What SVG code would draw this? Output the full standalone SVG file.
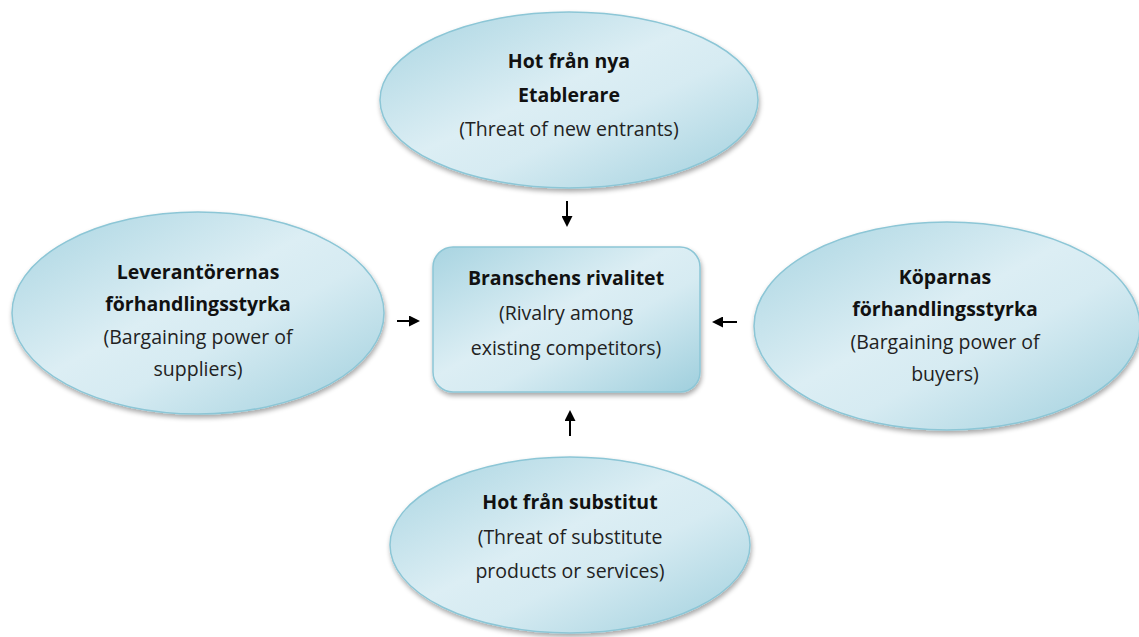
<svg xmlns="http://www.w3.org/2000/svg" width="1139" height="637" viewBox="0 0 1139 637">
<style>
.b{font-family:"Open Sans","Liberation Sans",sans-serif;font-size:19.5px;font-weight:bold;fill:#111;text-anchor:middle}
.t{font-family:"Open Sans","Liberation Sans",sans-serif;font-size:19.5px;fill:#222;text-anchor:middle}
.shape{fill:url(#g);stroke:#8cc6d6;stroke-width:1.5;filter:url(#sh)}
.arr{stroke:#000;stroke-width:2;fill:none;marker-end:url(#ah)}
</style>
<defs>
<linearGradient id="g" x1="0" y1="0" x2="1" y2="1">
<stop offset="0" stop-color="#a8d4e1"/>
<stop offset="0.45" stop-color="#dceef4"/>
<stop offset="0.6" stop-color="#d6ebf2"/>
<stop offset="1" stop-color="#9fcfdd"/>
</linearGradient>
<filter id="sh" x="-10%" y="-10%" width="120%" height="125%">
<feGaussianBlur in="SourceAlpha" stdDeviation="2.5"/>
<feOffset dx="1" dy="3" result="o"/>
<feComponentTransfer><feFuncA type="linear" slope="0.35"/></feComponentTransfer>
<feMerge><feMergeNode/><feMergeNode in="SourceGraphic"/></feMerge>
</filter>
<marker id="ah" markerWidth="5.5" markerHeight="5.5" refX="4.5" refY="2.75" orient="auto" markerUnits="strokeWidth">
<path d="M0,0 L5.5,2.75 L0,5.5 z" fill="#000"/>
</marker>
</defs>
<rect width="1139" height="637" fill="#fff"/>
<g id="connectors">
<line class="arr" x1="567" y1="201" x2="567" y2="225"/>
<line class="arr" x1="570" y1="436" x2="570" y2="412"/>
<line class="arr" x1="397" y1="321" x2="418" y2="321"/>
<line class="arr" x1="737" y1="322" x2="714" y2="322"/>
</g>
<g id="node-top">
<ellipse class="shape" cx="569" cy="100" rx="189" ry="88"/>
<text class="b" x="569" y="68">Hot från nya</text>
<text class="b" x="569" y="102">Etablerare</text>
<text class="t" x="569" y="136">(Threat of new entrants)</text>
</g>
<g id="node-left">
<ellipse class="shape" cx="198" cy="313" rx="186" ry="101"/>
<text class="b" x="198" y="279">Leverantörernas</text>
<text class="b" x="198" y="311">förhandlingsstyrka</text>
<text class="t" x="198" y="344">(Bargaining power of</text>
<text class="t" x="198" y="376">suppliers)</text>
</g>
<g id="node-right">
<ellipse class="shape" cx="947" cy="326" rx="193" ry="104"/>
<text class="b" x="945" y="284">Köparnas</text>
<text class="b" x="945" y="316">förhandlingsstyrka</text>
<text class="t" x="945" y="349">(Bargaining power of</text>
<text class="t" x="945" y="381">buyers)</text>
</g>
<g id="node-bottom">
<ellipse class="shape" cx="570" cy="545" rx="180" ry="88"/>
<text class="b" x="570" y="509">Hot från substitut</text>
<text class="t" x="570" y="544">(Threat of substitute</text>
<text class="t" x="570" y="578">products or services)</text>
</g>
<g id="node-center">
<rect class="shape" x="433" y="247" width="267" height="145" rx="20" ry="20"/>
<text class="b" x="566" y="285">Branschens rivalitet</text>
<text class="t" x="566" y="320">(Rivalry among</text>
<text class="t" x="566" y="355">existing competitors)</text>
</g>
</svg>
